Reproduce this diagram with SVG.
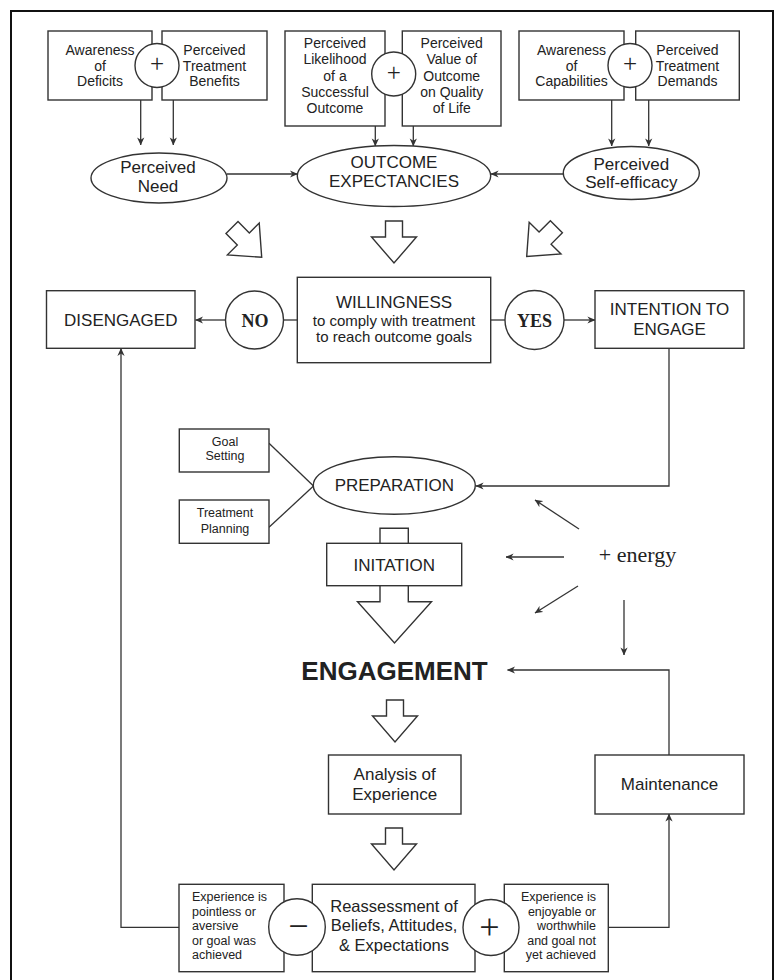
<svg xmlns="http://www.w3.org/2000/svg" width="782" height="980" viewBox="0 0 782 980">
<defs>
<marker id="ah" viewBox="0 0 10 10" refX="9.5" refY="5" markerWidth="8" markerHeight="8" markerUnits="userSpaceOnUse" orient="auto">
<path d="M0,0.5 L10,5 L0,9.5 L3,5 z" fill="#333"/>
</marker>
<path id="harrow" d="M-8.5,-42 H8.5 V-26 H22.5 L0,0 L-22.5,-26 H-8.5 Z"/>
</defs>
<style>
.box{fill:#fff;stroke:#333;stroke-width:1.4}
.ln{fill:none;stroke:#333;stroke-width:1.3}
.arr{fill:none;stroke:#333;stroke-width:1.3;marker-end:url(#ah)}
.ha{fill:#fff;stroke:#333;stroke-width:1.4;stroke-linejoin:miter}
.t{font-family:"Liberation Sans",Arial,sans-serif;fill:#222;text-anchor:middle}
.s14{font-size:14px}
.s17{font-size:17px}
.s12{font-size:12.5px}
.s16{font-size:16.5px}
.sf{font-family:"Liberation Serif","Times New Roman",serif;fill:#222;text-anchor:middle}
.pm{font-family:"Liberation Serif","Times New Roman",serif;fill:#222;text-anchor:middle}
.b{font-weight:bold}
.l{text-anchor:start}
.r{text-anchor:end}
</style>
<rect width="782" height="980" fill="#fff"/>
<path d="M11,985 V11 H773 V985" fill="none" stroke="#111" stroke-width="2"/>

<g id="connectors">
<line class="arr" x1="140.7" y1="100" x2="140.7" y2="145"/>
<line class="arr" x1="173.3" y1="100" x2="173.3" y2="145"/>
<line class="arr" x1="375.3" y1="126" x2="375.3" y2="146"/>
<line class="arr" x1="413.3" y1="126" x2="413.3" y2="146"/>
<line class="arr" x1="611.7" y1="100" x2="611.7" y2="146"/>
<line class="arr" x1="648.7" y1="100" x2="648.7" y2="146"/>
<line class="arr" x1="227" y1="174" x2="297.5" y2="174"/>
<line class="arr" x1="563" y1="174" x2="491" y2="174"/>
<line class="arr" x1="225.5" y1="320" x2="195.5" y2="320"/>
<line class="ln" x1="283.5" y1="320" x2="297.3" y2="320"/>
<line class="ln" x1="490.7" y1="320" x2="505" y2="320"/>
<line class="arr" x1="564" y1="320" x2="595" y2="320"/>
<polyline class="arr" points="669,348.3 669,486 476,486"/>
<line class="ln" x1="269" y1="443.3" x2="313.5" y2="486"/>
<line class="ln" x1="269" y1="527.3" x2="313.5" y2="486"/>
<line class="arr" x1="579" y1="529" x2="535" y2="500"/>
<line class="arr" x1="564" y1="557" x2="506" y2="557"/>
<line class="arr" x1="578" y1="586" x2="535" y2="613"/>
<line class="arr" x1="624" y1="600" x2="624" y2="655"/>
<polyline class="arr" points="669,755 669,670 507.5,670"/>
<polyline class="arr" points="180,927.3 121,927.3 121,348.3"/>
<polyline class="arr" points="608.3,927.3 669,927.3 669,814"/>
<use href="#harrow" class="ha" transform="translate(261.7,257.3) rotate(-45)"/>
<use href="#harrow" class="ha" transform="translate(394,263)"/>
<use href="#harrow" class="ha" transform="translate(526.7,256.5) rotate(45)"/>
<path class="ha" d="M380,528.3 H408.3 V601.7 H431.5 L394.5,643 L357.5,601.7 H380 Z"/>
<use href="#harrow" class="ha" transform="translate(395,742)"/>
<use href="#harrow" class="ha" transform="translate(394,870)"/>
</g>

<g id="awareness-deficits">
<rect class="box" x="48" y="31" width="104" height="69"/>
<text class="t s14"><tspan x="100" y="55">Awareness</tspan><tspan x="100" y="70.5">of</tspan><tspan x="100" y="86">Deficits</tspan></text>
</g>
<g id="treatment-benefits">
<rect class="box" x="162" y="31" width="105" height="69"/>
<text class="t s14"><tspan x="214.5" y="55">Perceived</tspan><tspan x="214.5" y="70.5">Treatment</tspan><tspan x="214.5" y="86">Benefits</tspan></text>
</g>
<g id="plus-1">
<circle class="box" cx="157" cy="65.5" r="22"/>
<text class="pm" x="157" y="72" style="font-size:25px">+</text>
</g>

<g id="likelihood">
<rect class="box" x="285" y="31" width="100" height="95"/>
<text class="t s14"><tspan x="335" y="48">Perceived</tspan><tspan x="335" y="64">Likelihood</tspan><tspan x="335" y="80.5">of a</tspan><tspan x="335" y="96.5">Successful</tspan><tspan x="335" y="112.5">Outcome</tspan></text>
</g>
<g id="value-outcome">
<rect class="box" x="402.3" y="31" width="98.7" height="95"/>
<text class="t s14"><tspan x="451.7" y="48">Perceived</tspan><tspan x="451.7" y="64">Value of</tspan><tspan x="451.7" y="80.5">Outcome</tspan><tspan x="451.7" y="96.5">on Quality</tspan><tspan x="451.7" y="112.5">of Life</tspan></text>
</g>
<g id="plus-2">
<circle class="box" cx="393.7" cy="74" r="22"/>
<text class="pm" x="393.7" y="80.5" style="font-size:25px">+</text>
</g>

<g id="awareness-capabilities">
<rect class="box" x="519" y="31" width="105" height="69"/>
<text class="t s14"><tspan x="571.5" y="55">Awareness</tspan><tspan x="571.5" y="70.5">of</tspan><tspan x="571.5" y="86">Capabilities</tspan></text>
</g>
<g id="treatment-demands">
<rect class="box" x="635.7" y="31" width="103.6" height="69"/>
<text class="t s14"><tspan x="687.5" y="55">Perceived</tspan><tspan x="687.5" y="70.5">Treatment</tspan><tspan x="687.5" y="86">Demands</tspan></text>
</g>
<g id="plus-3">
<circle class="box" cx="630" cy="65.5" r="22"/>
<text class="pm" x="630" y="72" style="font-size:25px">+</text>
</g>

<g id="perceived-need">
<ellipse class="box" cx="159" cy="178" rx="68" ry="25"/>
<text class="t s17"><tspan x="158" y="172.7">Perceived</tspan><tspan x="158" y="191.7">Need</tspan></text>
</g>
<g id="outcome-expectancies">
<ellipse class="box" cx="394" cy="176" rx="96.7" ry="30.5"/>
<text class="t s17"><tspan x="394" y="168">OUTCOME</tspan><tspan x="394" y="187">EXPECTANCIES</tspan></text>
</g>
<g id="self-efficacy">
<ellipse class="box" cx="631.3" cy="173" rx="68" ry="26.5"/>
<text class="t s17"><tspan x="631.3" y="170">Perceived</tspan><tspan x="631.3" y="188">Self-efficacy</tspan></text>
</g>

<g id="disengaged">
<rect class="box" x="46.5" y="290.7" width="148.5" height="57.6"/>
<text class="t s17" x="120.75" y="326">DISENGAGED</text>
</g>
<g id="no">
<circle class="box" cx="254.5" cy="320" r="29"/>
<text class="sf b" x="255" y="326.5" style="font-size:18px">NO</text>
</g>
<g id="willingness">
<rect class="box" x="297.3" y="277.3" width="193.4" height="85.4"/>
<text class="t s17" x="394" y="308.3">WILLINGNESS</text>
<text class="t" style="font-size:15px"><tspan x="394" y="325.5">to comply with treatment</tspan><tspan x="394" y="341.5">to reach outcome goals</tspan></text>
</g>
<g id="yes">
<circle class="box" cx="534.5" cy="320" r="29.5"/>
<text class="sf b" x="534.5" y="326.5" style="font-size:18px">YES</text>
</g>
<g id="intention">
<rect class="box" x="595" y="290.7" width="149" height="57.6"/>
<text class="t s17"><tspan x="669.5" y="315">INTENTION TO</tspan><tspan x="669.5" y="335">ENGAGE</tspan></text>
</g>

<g id="goal-setting">
<rect class="box" x="179.3" y="429" width="89.7" height="43"/>
<text class="t s12"><tspan x="225" y="446">Goal</tspan><tspan x="225" y="460">Setting</tspan></text>
</g>
<g id="treatment-planning">
<rect class="box" x="179.3" y="500" width="89.7" height="43.3"/>
<text class="t s12"><tspan x="225" y="517.3">Treatment</tspan><tspan x="225" y="532.7">Planning</tspan></text>
</g>
<g id="preparation">
<ellipse class="box" cx="394.3" cy="485.5" rx="81" ry="28.7"/>
<text class="t s17" x="394.3" y="491">PREPARATION</text>
</g>
<g id="initation">
<rect class="box" x="326.7" y="543.3" width="135" height="42.4"/>
<text class="t s17" x="394.2" y="570.5">INITATION</text>
</g>
<g id="energy">
<text class="sf" x="637.5" y="562" style="font-size:22px">+ energy</text>
</g>
<g id="engagement">
<text class="t b" x="394.5" y="680" style="font-size:26px">ENGAGEMENT</text>
</g>
<g id="analysis">
<rect class="box" x="328.5" y="755" width="132.5" height="59"/>
<text class="t s17"><tspan x="394.7" y="779.5">Analysis of</tspan><tspan x="394.7" y="800">Experience</tspan></text>
</g>
<g id="maintenance">
<rect class="box" x="595" y="755" width="149" height="59"/>
<text class="t s17" x="669.5" y="789.5">Maintenance</text>
</g>

<g id="experience-negative">
<rect class="box" x="179" y="884.3" width="105" height="87.4"/>
<text class="t s12 l"><tspan x="192" y="901">Experience is</tspan><tspan x="192" y="915.7">pointless or</tspan><tspan x="192" y="930.2">aversive</tspan><tspan x="192" y="944.6">or goal was</tspan><tspan x="192" y="959.2">achieved</tspan></text>
</g>
<g id="reassessment">
<rect class="box" x="312.3" y="884.3" width="162.7" height="87.4"/>
<text class="t s16"><tspan x="394" y="912">Reassessment of</tspan><tspan x="394" y="931">Beliefs, Attitudes,</tspan><tspan x="394" y="950.5">&amp; Expectations</tspan></text>
</g>
<g id="experience-positive">
<rect class="box" x="504.3" y="884.3" width="104" height="87.4"/>
<text class="t s12 r"><tspan x="596" y="901">Experience is</tspan><tspan x="596" y="915.7">enjoyable or</tspan><tspan x="596" y="930.2">worthwhile</tspan><tspan x="596" y="944.6">and goal not</tspan><tspan x="596" y="959.2">yet achieved</tspan></text>
</g>
<g id="minus">
<circle class="box" cx="297" cy="927" r="28.3"/>
<text class="pm" x="298.5" y="937.5" style="font-size:36px">−</text>
</g>
<g id="plus-4">
<circle class="box" cx="491" cy="927.5" r="28"/>
<text class="pm" x="489.5" y="938.5" style="font-size:36px">+</text>
</g>
</svg>
